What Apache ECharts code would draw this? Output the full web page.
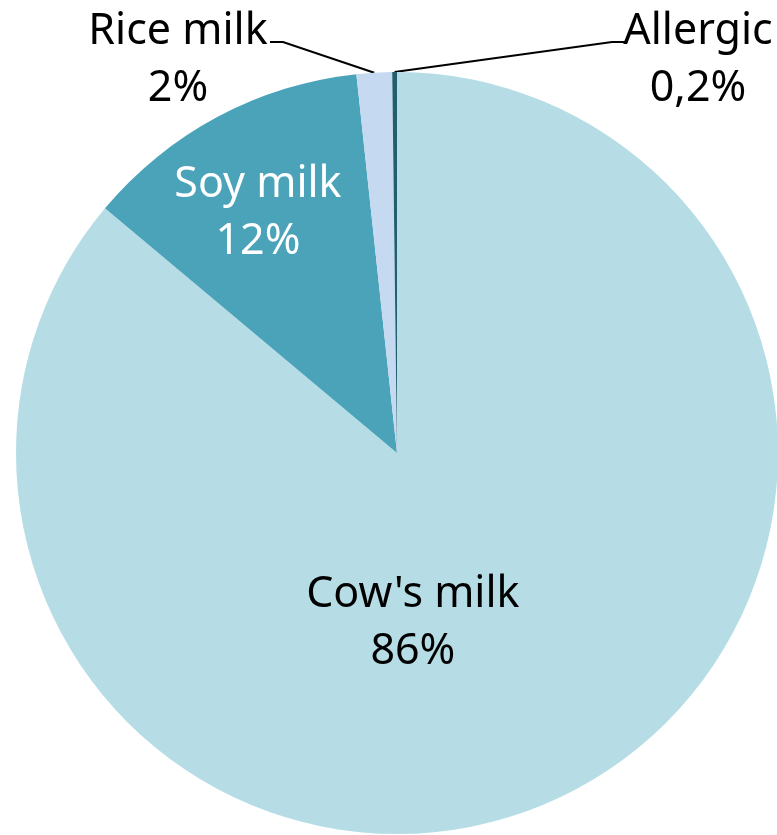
<!DOCTYPE html>
<html>
<head>
<meta charset="utf-8">
<script src="https://cdn.jsdelivr.net/npm/echarts@6/dist/echarts.min.js"></script>
<style>
  html, body { margin: 0; padding: 0; background: #fff; }
  #main { width: 777px; height: 835px; }
</style>
</head>
<body>
<div id="main"></div>
<script>
var names = ["Cow's milk", 'Soy milk', 'Rice milk', 'Allergic'];
var values = [86.1, 12.2, 1.5, 0.2];
var shown = ['86%', '12%', '2%', '0,2%'];
var colors = ['#b6dde6', '#4aa3b9', '#c5d9f0', '#215e6e'];

var chart = echarts.init(document.getElementById('main'));

var pieData = names.map(function (n, i) {
    var inside = i < 2;
    return {
        name: n,
        value: values[i],
        itemStyle: { color: colors[i] },
        label: {
            show: true,
            position: inside ? 'inside' : 'outside',
            color: i === 1 ? '#ffffff' : '#000000',
            formatter: n + '\n' + shown[i]
        },
        labelLine: { show: !inside }
    };
});

// nudges so the labels sit where the original chart put them
var labelMoves = [
    { dx: -66, dy: -5 },
    { dx: -48, dy: -69 },
    { x: 178, y: 60, align: 'center', verticalAlign: 'middle', bend: [[283, 42], [270, 42]] },
    { x: 698, y: 60, align: 'center', verticalAlign: 'middle', bend: [[612, 42], [626, 42]] }
];

chart.setOption({
    animation: false,
    series: [
        {
            type: 'pie',
            center: [397, 453],
            radius: [0, 381],
            startAngle: 90,
            clockwise: true,
            avoidLabelOverlap: false,
            data: pieData,
            itemStyle: { borderWidth: 0 },
            label: {
                fontFamily: 'Noto Sans',
                fontSize: 43,
                lineHeight: 57,
                align: 'center'
            },
            labelLine: {
                length: 20,
                length2: 20,
                lineStyle: { color: '#000', width: 2 }
            },
            labelLayout: function (params) {
                var m = labelMoves[params.dataIndex];
                var out = { dx: m.dx, dy: m.dy, x: m.x, y: m.y, align: m.align, verticalAlign: m.verticalAlign };
                if (m.bend && params.labelLinePoints) {
                    // keep the anchor on the slice edge, route the rest like the original
                    out.labelLinePoints = [params.labelLinePoints[0]].concat(m.bend);
                }
                return out;
            }
        }
    ]
});
</script>
</body>
</html>
